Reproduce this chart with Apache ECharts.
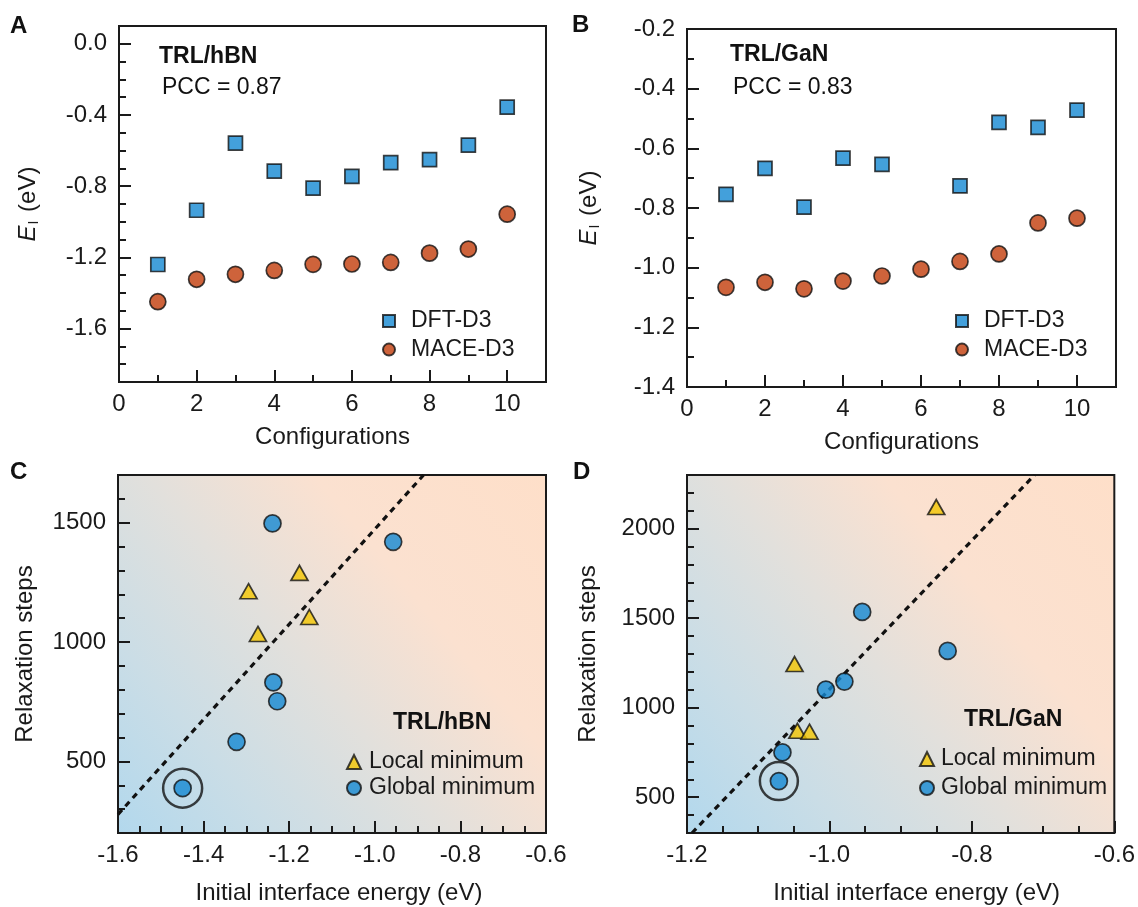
<!DOCTYPE html>
<html>
<head>
<meta charset="utf-8">
<script src="https://cdn.jsdelivr.net/npm/echarts@6/dist/echarts.min.js"></script>
<style>
  html, body { margin: 0; padding: 0; background: #fff; }
  #chart { width: 1138px; height: 907px; }
</style>
</head>
<body>
<div id="chart"></div>
<script>
// configurations 1..10
const configs = [1, 2, 3, 4, 5, 6, 7, 8, 9, 10];

// panel A / C : TRL/hBN
const hbnDft = [-1.24, -0.935, -0.558, -0.715, -0.811, -0.745, -0.668, -0.651, -0.569, -0.356];
const hbnMace = [-1.449, -1.323, -1.295, -1.273, -1.239, -1.237, -1.228, -1.176, -1.153, -0.957];
const hbnSteps = [388, 582, 1213, 1034, 1497, 831, 752, 1290, 1105, 1420];
const hbnKind = ['G', 'G', 'L', 'L', 'G', 'G', 'G', 'L', 'L', 'G'];
const hbnFit = [[-1.6, 278], [-0.886, 1700]];

// panel B / D : TRL/GaN (config 6 has no DFT point)
const ganDft = [-0.754, -0.667, -0.797, -0.633, -0.654, null, -0.726, -0.513, -0.53, -0.472];
const ganMace = [-1.066, -1.049, -1.071, -1.045, -1.028, -1.005, -0.979, -0.954, -0.85, -0.834];
const ganSteps = [750, 1244, 590, 871, 866, 1101, 1146, 1535, 2121, 1317];
const ganKind = ['G', 'L', 'G', 'L', 'L', 'G', 'G', 'G', 'L', 'G'];
const ganFit = [[-1.193, 300], [-0.712, 2300]];

// tick labels
const hbnETicks = [0, -0.4, -0.8, -1.2, -1.6];
const ganETicks = [-0.2, -0.4, -0.6, -0.8, -1.0, -1.2, -1.4];
const hbnStepTicks = [500, 1000, 1500];
const ganStepTicks = [500, 1000, 1500, 2000];

const FONT = 'Liberation Sans, Arial, sans-serif';
const BLUE = '#1488d2';
const ORANGE = '#c23c0a';
const YELLOW = '#f4c600';
const INK = '#1a1a1a';

function range(a, b, step) {
  const out = [];
  for (let v = a; v <= b + 1e-9; v += step) out.push(+v.toFixed(4));
  return out;
}

function pairs(xs, ys) {
  return xs.map((x, i) => [x, ys[i]]);
}

function pick(xs, ys, kinds, k) {
  return xs.map((x, i) => [x, ys[i]]).filter((p, i) => kinds[i] === k);
}

// the lowest-energy configuration gets the ring
function lowest(xs, ys) {
  let j = 0;
  xs.forEach((x, i) => { if (x < xs[j]) j = i; });
  return [[xs[j], ys[j]]];
}

const chart = echarts.init(document.getElementById('chart'));

// blue bottom-left -> grey diagonal -> peach top-right
const bg = {
  type: 'linear', x: 0, y: 1, x2: 1, y2: 0,
  colorStops: [
    { offset: 0, color: '#b2d8ed' },
    { offset: 0.22, color: '#cadde6' },
    { offset: 0.45, color: '#e2e0dc' },
    { offset: 0.68, color: '#fbe1d0' },
    { offset: 1, color: '#fedfc9' }
  ]
};

const grids = [
  { left: 119, top: 26, width: 427, height: 356 },
  { left: 687, top: 29, width: 429, height: 358 },
  { left: 118, top: 475, width: 428, height: 358, backgroundColor: bg },
  { left: 687, top: 475, width: 429, height: 358, backgroundColor: bg }
].map(g => Object.assign({ show: true, borderColor: INK, borderWidth: 2 }, g));

const axLine = { onZero: false, lineStyle: { color: INK, width: 2 } };
const lab = { color: INK, fontSize: 24, fontFamily: FONT };
const nameStyle = { color: INK, fontSize: 24, fontFamily: FONT };

function xAx(gi, min, max, interval, minorSplit, name, nameGap, shift, hideMax) {
  return {
    type: 'value', gridIndex: gi, min: min, max: max, interval: interval,
    name: name, nameLocation: 'middle', nameGap: nameGap,
    nameTextStyle: Object.assign({}, nameStyle, { padding: [0, 0, 0, shift] }),
    axisLine: axLine,
    axisTick: { inside: true, length: 12, lineStyle: { color: INK, width: 2 } },
    minorTick: { show: true, splitNumber: minorSplit, length: 7, lineStyle: { color: INK, width: 2 } },
    axisLabel: Object.assign({}, lab, {
      margin: 10, showMaxLabel: !hideMax,
      formatter: v => (interval < 1 ? v.toFixed(1) : String(v))
    }),
    splitLine: { show: false }
  };
}

// major y axis: labels + long ticks
function yMajor(gi, min, max, ticks, digits, name, nameGap, rich) {
  return {
    type: 'value', gridIndex: gi, min: min, max: max, position: 'left',
    name: name, nameLocation: 'middle', nameGap: nameGap, nameRotate: 90,
    nameTextStyle: Object.assign({}, nameStyle, rich ? { rich: rich } : {}),
    axisLine: axLine,
    axisTick: { inside: true, length: 12, customValues: ticks, lineStyle: { color: INK, width: 2 } },
    axisLabel: Object.assign({}, lab, { margin: 12, customValues: ticks, formatter: v => v.toFixed(digits) }),
    splitLine: { show: false }
  };
}

// minor y axis: short ticks only
function yMinor(gi, min, max, ticks) {
  return {
    type: 'value', gridIndex: gi, min: min, max: max, position: 'left',
    axisLine: axLine,
    axisTick: { inside: true, length: 7, customValues: ticks, lineStyle: { color: INK, width: 2 } },
    axisLabel: { show: false },
    splitLine: { show: false }
  };
}

const eRich = {
  e: { fontStyle: 'italic', fontSize: 24, fontFamily: FONT, color: INK },
  s: { fontSize: 14, fontFamily: FONT, color: INK, padding: [11, 2, 0, 1] },
  t: { fontSize: 24, fontFamily: FONT, color: INK }
};
const eName = '{e|E}{s|I}{t| (eV)}';

const xAxes = [
  xAx(0, 0, 11, 2, 2, 'Configurations', 43, 0, true),
  xAx(1, 0, 11, 2, 2, 'Configurations', 43, 0, true),
  xAx(2, -1.6, -0.6, 0.2, 4, 'Initial interface energy (eV)', 48, 14, false),
  xAx(3, -1.2, -0.6, 0.2, 4, 'Initial interface energy (eV)', 48, 32, false)
];

const yAxes = [
  yMajor(0, -1.9, 0.1, hbnETicks, 1, eName, 78, eRich),
  yMinor(0, -1.9, 0.1, range(-1.9, 0.1, 0.1)),
  yMajor(1, -1.4, -0.2, ganETicks, 1, eName, 85, eRich),
  yMinor(1, -1.4, -0.2, range(-1.4, -0.2, 0.1)),
  yMajor(2, 200, 1700, hbnStepTicks, 0, 'Relaxation steps', 81),
  yMinor(2, 200, 1700, range(200, 1700, 100)),
  yMajor(3, 300, 2300, ganStepTicks, 0, 'Relaxation steps', 87),
  yMinor(3, 300, 2300, range(300, 2300, 100))
];

const edge = { borderColor: '#111', borderWidth: 1.7 };
const sqStyle = Object.assign({ color: BLUE }, edge);
const orStyle = Object.assign({ color: ORANGE }, edge);
const glStyle = Object.assign({ color: BLUE }, edge);
const loStyle = Object.assign({ color: YELLOW }, edge);

function energySeries(xi, yi, dft, mace) {
  return [
    { name: 'DFT-D3', type: 'scatter', xAxisIndex: xi, yAxisIndex: yi, symbol: 'rect', symbolSize: 14,
      itemStyle: sqStyle, data: pairs(configs, dft).filter(p => p[1] !== null), z: 3 },
    { name: 'MACE-D3', type: 'scatter', xAxisIndex: xi, yAxisIndex: yi, symbol: 'circle', symbolSize: 16,
      itemStyle: orStyle, data: pairs(configs, mace), z: 3 }
  ];
}

function stepSeries(xi, yi, mace, steps, kinds, fit, ringSize) {
  return [
    { name: 'fit', type: 'line', xAxisIndex: xi, yAxisIndex: yi, data: fit, symbol: 'none', silent: true,
      lineStyle: { color: '#111', width: 3.2, type: [6, 5] }, z: 2 },
    { name: 'Local minimum', type: 'scatter', xAxisIndex: xi, yAxisIndex: yi, symbol: 'triangle',
      symbolSize: [17, 15], itemStyle: loStyle, data: pick(mace, steps, kinds, 'L'), z: 4 },
    { name: 'Global minimum', type: 'scatter', xAxisIndex: xi, yAxisIndex: yi, symbol: 'circle',
      symbolSize: 17, itemStyle: glStyle, data: pick(mace, steps, kinds, 'G'), z: 4 },
    { name: 'ring', type: 'scatter', xAxisIndex: xi, yAxisIndex: yi, symbol: 'circle', symbolSize: ringSize,
      itemStyle: { color: 'rgba(0,0,0,0)', borderColor: '#111', borderWidth: 2.5 },
      data: lowest(mace, steps), z: 5, silent: true }
  ];
}

const legText = pad => ({ fontSize: 23, fontFamily: FONT, color: INK, lineHeight: 24, padding: [0, 0, 0, pad] });

const legends = [
  { data: ['DFT-D3', 'MACE-D3'], left: 382, top: 309, itemGap: 4.6, size: 12, pad: 11 },
  { data: ['DFT-D3', 'MACE-D3'], left: 955, top: 309, itemGap: 4.6, size: 12, pad: 11 },
  { data: ['Local minimum', 'Global minimum'], left: 346, top: 750, itemGap: 2, size: 14, pad: 3 },
  { data: ['Local minimum', 'Global minimum'], left: 919, top: 747, itemGap: 5, size: 14, pad: 2 }
].map(l => ({
  data: l.data, left: l.left, top: l.top, orient: 'vertical', itemGap: l.itemGap, padding: 0,
  itemWidth: l.size, itemHeight: l.size, selectedMode: false, textStyle: legText(l.pad)
}));

function txt(x, y, text, size, bold) {
  return { type: 'text', x: x, y: y, silent: true,
    style: { text: text, fontSize: size, fontWeight: bold ? 'bold' : 'normal', fontFamily: FONT,
      fill: '#111', verticalAlign: 'middle' } };
}

const option = {
  animation: false,
  backgroundColor: '#fff',
  grid: grids,
  xAxis: xAxes,
  yAxis: yAxes,
  legend: legends,
  series: [].concat(
    energySeries(0, 0, hbnDft, hbnMace),
    energySeries(1, 2, ganDft, ganMace),
    stepSeries(2, 4, hbnMace, hbnSteps, hbnKind, hbnFit, 39),
    stepSeries(3, 6, ganMace, ganSteps, ganKind, ganFit, 38)
  ),
  graphic: [
    txt(10, 26, 'A', 24, true),
    txt(572, 25, 'B', 24, true),
    txt(10, 472, 'C', 24, true),
    txt(573, 472, 'D', 24, true),
    txt(159, 57, 'TRL/hBN', 23, true),
    txt(162, 88, 'PCC = 0.87', 23, false),
    txt(730, 55, 'TRL/GaN', 23, true),
    txt(733, 88, 'PCC = 0.83', 23, false),
    txt(393, 723, 'TRL/hBN', 23, true),
    txt(964, 720, 'TRL/GaN', 23, true)
  ]
};

chart.setOption(option);
</script>
</body>
</html>
